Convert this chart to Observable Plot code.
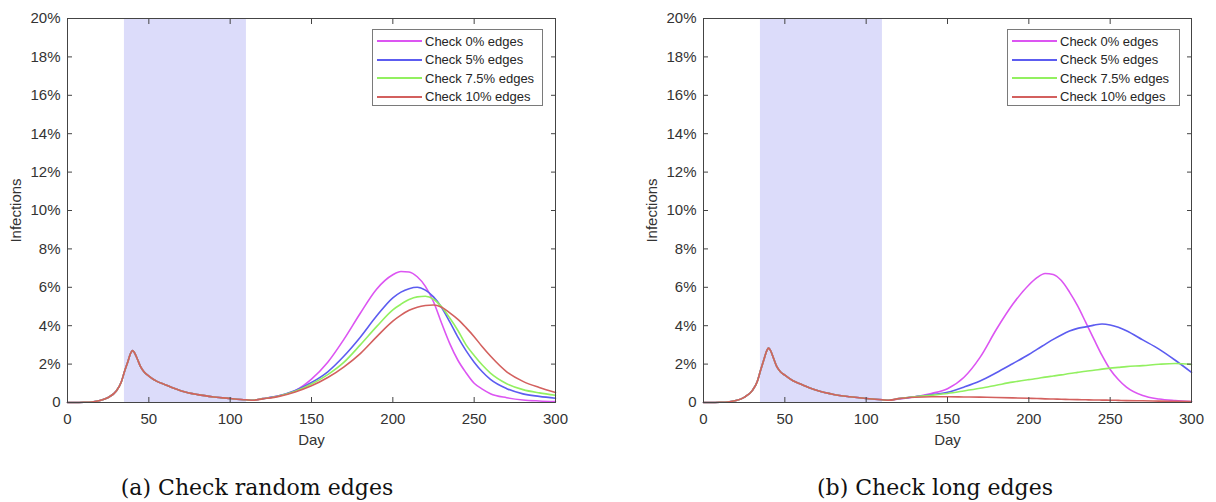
<!DOCTYPE html>
<html><head><meta charset="utf-8">
<script src="https://cdn.jsdelivr.net/npm/d3@7"></script>
<script src="https://cdn.jsdelivr.net/npm/@observablehq/plot@0.6"></script>
<style>
body{margin:0;background:#fff;}
#wrap{position:relative;width:1216px;height:502px;overflow:hidden;font-family:"Liberation Sans",Arial,sans-serif;background:#fff;}
.panel{position:absolute;top:0;}
.legend{position:absolute;top:29px;height:77px;border:1px solid #7a7a7a;background:#fff;font-size:13px;color:#262626;padding-top:2px;box-sizing:border-box;}
.legend .row{display:flex;align-items:center;height:18.5px;white-space:nowrap;}
.legend .sw{display:block;width:45px;height:2px;flex:none;margin-left:4px;margin-right:3px;}
.caption{position:absolute;top:476px;line-height:24px;font-family:"DejaVu Serif",serif;font-size:22px;color:#111;transform:translateX(-50%);white-space:nowrap;}
</style></head>
<body><div id="wrap"></div>
<script>
// ---------- data ----------
const seriesNames = ["Check 0% edges", "Check 5% edges", "Check 7.5% edges", "Check 10% edges"];
const seriesColors = ["#dc55f2", "#5c5cf0", "#92f060", "#d3605e"];
const shadeStart = 35, shadeEnd = 110;
const xTicks = [0, 50, 100, 150, 200, 250, 300];
const yTicks = [0, 2, 4, 6, 8, 10, 12, 14, 16, 18, 20];
const captions = ["(a) Check random edges", "(b) Check long edges"];

// early days (shared by all series of a panel)
const earlyDays = [0,5,10,15,20,25,30,33,35,37,39,40,41,43,45,47,50,55,60,65,70,80,90,100,110,114];
const earlyA = [0,0,0.01,0.03,0.1,0.26,0.6,1.05,1.6,2.1,2.6,2.7,2.62,2.25,1.85,1.6,1.38,1.1,0.93,0.75,0.6,0.41,0.29,0.21,0.14,0.12];
const earlyB = [0,0,0.01,0.03,0.1,0.27,0.62,1.08,1.65,2.2,2.72,2.83,2.74,2.32,1.88,1.63,1.42,1.13,0.95,0.77,0.62,0.42,0.3,0.21,0.14,0.12];

// late days
const lateDays = [120,130,140,150,160,170,180,190,200,205,210,215,220,225,230,235,240,245,250,255,260,270,280,290,300];

// panel (a): random edges
const a0 = [0.2,0.35,0.62,1.22,2.1,3.3,4.65,5.9,6.65,6.82,6.8,6.55,6.05,5.25,4.13,3.07,2.2,1.55,1.0,0.7,0.46,0.25,0.13,0.08,0.05];
const a5 = [0.2,0.35,0.62,1.04,1.6,2.42,3.4,4.5,5.45,5.75,5.93,6.0,5.85,5.5,4.95,4.2,3.4,2.7,2.1,1.6,1.2,0.72,0.45,0.32,0.22];
const a75 = [0.2,0.34,0.58,0.96,1.45,2.1,3.0,3.95,4.83,5.12,5.36,5.5,5.53,5.38,4.98,4.4,3.75,3.0,2.45,1.95,1.53,0.98,0.67,0.5,0.38];
const a10 = [0.19,0.32,0.55,0.87,1.3,1.86,2.55,3.42,4.24,4.55,4.8,4.96,5.05,5.08,4.96,4.67,4.33,3.9,3.43,2.9,2.42,1.6,1.1,0.78,0.52];

// panel (b): long edges
const b0 = [0.18,0.3,0.47,0.72,1.3,2.35,3.8,5.1,6.12,6.5,6.72,6.67,6.35,5.75,5.03,4.17,3.3,2.45,1.72,1.2,0.8,0.36,0.18,0.1,0.05];
const b5 = [0.2,0.3,0.4,0.53,0.8,1.12,1.55,2.02,2.5,2.77,3.03,3.29,3.52,3.72,3.86,3.94,4.03,4.09,4.04,3.92,3.74,3.26,2.78,2.2,1.57];
const b75 = [0.2,0.3,0.38,0.47,0.6,0.74,0.9,1.06,1.19,1.25,1.32,1.38,1.44,1.51,1.57,1.63,1.68,1.74,1.79,1.83,1.87,1.92,1.99,2.03,1.98];
const b10 = [0.2,0.27,0.3,0.3,0.29,0.28,0.26,0.24,0.22,0.21,0.19,0.18,0.17,0.16,0.15,0.14,0.13,0.125,0.12,0.11,0.1,0.09,0.07,0.06,0.05];

// ---------- build ----------
const days = earlyDays.concat(lateDays);
function rowsFor(early, lates) {
  const rows = [];
  lates.forEach((late, k) => {
    early.concat(late).forEach((v, i) => rows.push({day: days[i], value: v, name: seriesNames[k]}));
  });
  return rows;
}

function makePanel(rows, width) {
  return Plot.plot({
    width, height: 460,
    marginLeft: 67, marginRight: width - 67 - 488, marginTop: 18, marginBottom: 58,
    style: {fontFamily: "'Liberation Sans', Arial, sans-serif", fontSize: "15px", color: "#333", background: "transparent"},
    x: {domain: [0, 300]},
    y: {domain: [0, 20]},
    color: {domain: seriesNames, range: seriesColors},
    marks: [
      Plot.rect([{s: shadeStart, e: shadeEnd}], {x1: "s", x2: "e", fill: "#dcdcfa"}),
      Plot.line(rows, {x: "day", y: "value", z: "name", stroke: "name", strokeWidth: 1.6, curve: "monotone-x"}),
      Plot.axisX({ticks: xTicks, tickSize: -5, tickPadding: 16, stroke: "#444", label: "Day", labelAnchor: "center", labelArrow: "none", labelOffset: 42}),
      Plot.axisX({anchor: "top", ticks: xTicks, tickSize: -5, stroke: "#444", tickFormat: () => "", label: null}),
      Plot.axisY({ticks: yTicks, tickSize: -5, tickPadding: 12, stroke: "#444", tickFormat: d => d === 0 ? "0" : d + "%", label: "Infections", labelAnchor: "center", labelArrow: "none", labelOffset: 57}),
      Plot.axisY({anchor: "right", ticks: yTicks, tickSize: -5, stroke: "#444", tickFormat: () => "", label: null}),
      Plot.frame({stroke: "#444"})
    ]
  });
}

const wrap = document.getElementById("wrap");
const panels = [
  {rows: rowsFor(earlyA, [a0, a5, a75, a10]), left: 0, width: 600, legendLeft: 372, legendWidth: 171, cap: 257},
  {rows: rowsFor(earlyB, [b0, b5, b75, b10]), left: 636, width: 580, legendLeft: 1007, legendWidth: 173, cap: 935}
];
panels.forEach((p, i) => {
  const svg = makePanel(p.rows, p.width);
  svg.classList.add("panel");
  svg.style.left = p.left + "px";
  wrap.appendChild(svg);
  const lg = document.createElement("div");
  lg.className = "legend";
  lg.style.left = p.legendLeft + "px";
  lg.style.width = p.legendWidth + "px";
  seriesNames.forEach((n, k) => {
    const r = document.createElement("div");
    r.className = "row";
    const sw = document.createElement("span");
    sw.className = "sw";
    sw.style.background = seriesColors[k];
    const t = document.createElement("span");
    t.textContent = n;
    r.appendChild(sw); r.appendChild(t);
    lg.appendChild(r);
  });
  wrap.appendChild(lg);
  const c = document.createElement("div");
  c.className = "caption";
  c.style.left = p.cap + "px";
  c.textContent = captions[i];
  wrap.appendChild(c);
});
</script></body></html>
